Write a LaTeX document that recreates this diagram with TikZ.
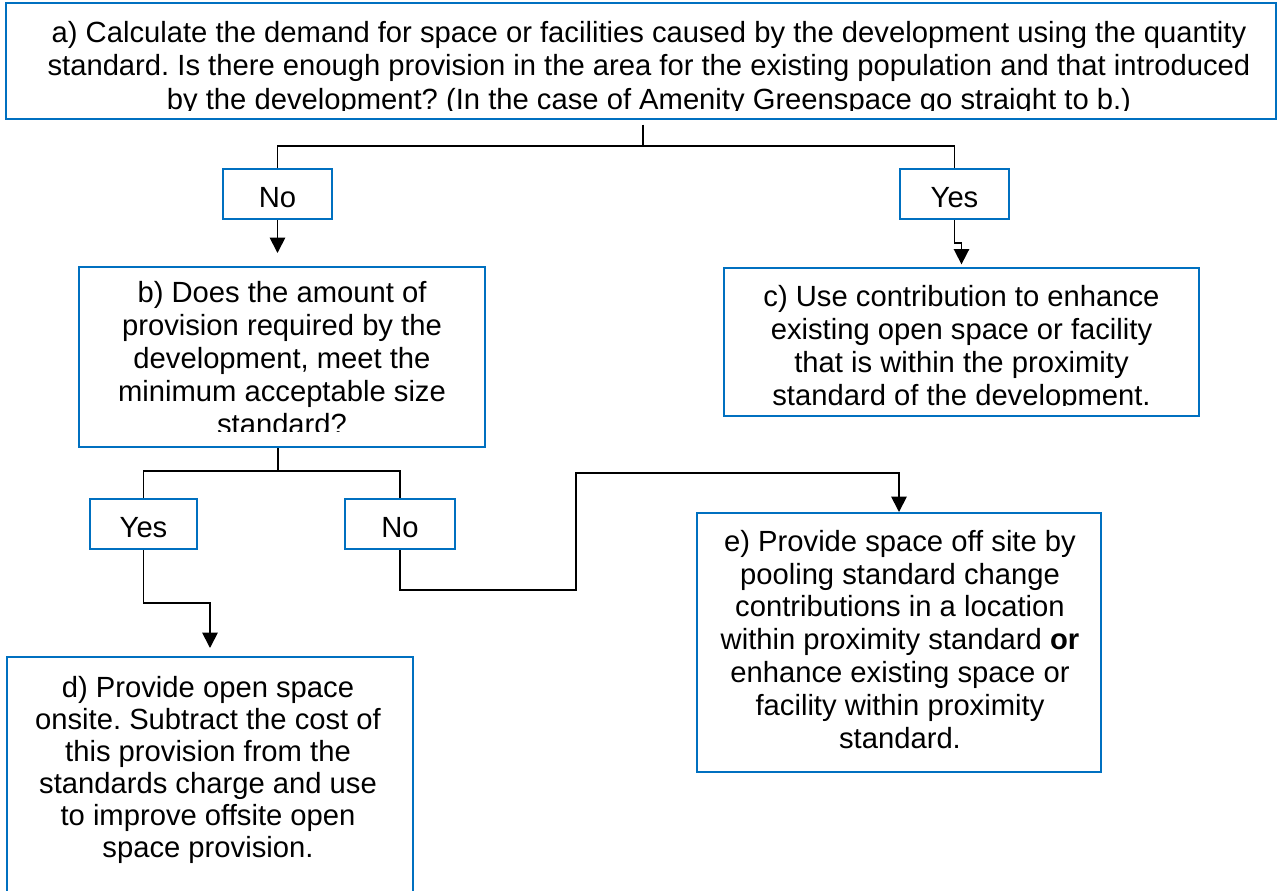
\documentclass[tikz,border=0pt]{standalone}
\usepackage{fontspec}
\setmainfont{Liberation Sans}
\usetikzlibrary{arrows.meta}
\definecolor{boxblue}{RGB}{0,112,192}
\frenchspacing
\begin{document}
\begin{tikzpicture}[x=0.75pt,y=-0.75pt,
  bx/.style={draw=boxblue,line width=1.5pt,inner sep=0pt},
  txt/.style={inner sep=0pt,align=center,anchor=north},
  lab/.style={inner sep=0pt,anchor=base,font=\fontsize{21.9}{25}\selectfont},
  conn/.style={line width=1.3pt,black},
  arr/.style={conn,-{Triangle[length=11.5pt,width=11.5pt]}}]
\useasboundingbox (0,0) rectangle (1279,890);
% boxes
\node[bx,minimum width=952.5pt,minimum height=87pt] (a) at (641,61) {};
\node[bx,minimum width=81.75pt,minimum height=37.5pt] (no1) at (277.5,194) {};
\node[bx,minimum width=81.75pt,minimum height=37.5pt] (yes1) at (954.5,194) {};
\node[bx,minimum width=304.5pt,minimum height=135pt] (b) at (282,357) {};
\node[bx,minimum width=356.25pt,minimum height=111pt] (c) at (961.5,342) {};
\node[bx,minimum width=80.25pt,minimum height=37.5pt] (yes2) at (143.5,524) {};
\node[bx,minimum width=82.5pt,minimum height=37.5pt] (no2) at (400,524) {};
\node[bx,minimum width=304.5pt,minimum height=177pt] (d) at (210,775) {};
\node[bx,minimum width=303pt,minimum height=194.25pt] (e) at (899,642.5) {};
% texts
\begin{scope}
\clip (6,3) rectangle (1276,110);
\node[txt,font=\fontsize{21.9}{25.1}\selectfont] (ta) at (649,19.33) {\rule{0pt}{17pt}a) Calculate the demand for space or facilities caused by the development using the quantity\\ standard. Is there enough provision in the area for the existing population and that introduced\\ by the development? (In the case of Amenity Greenspace go straight to b.)};
\end{scope}
\begin{scope}
\clip (79,267) rectangle (485,431);
\node[txt,font=\fontsize{21.9}{24.75}\selectfont] (tb) at (282,279.33) {\rule{0pt}{17pt}b) Does the amount of\\ provision required by the\\ development, meet the\\ minimum acceptable size\\ standard?};
\end{scope}
\begin{scope}
\clip (724,268) rectangle (1199,405.5);
\node[txt,font=\fontsize{21.9}{24.75}\selectfont] (tc) at (961.5,283.33) {\rule{0pt}{17pt}c) Use contribution to enhance\\ existing open space or facility\\ that is within the proximity\\ standard of the development.};
\end{scope}
\node[txt,font=\fontsize{21.9}{24}\selectfont] (td) at (208,674.33) {\rule{0pt}{17pt}d) Provide open space\\ onsite. Subtract the cost of\\ this provision from the\\ standards charge and use\\ to improve offsite open\\ space provision.};
\node[txt,font=\fontsize{21.9}{24.6}\selectfont] (te) at (900,528.33) {\rule{0pt}{17pt}e) Provide space off site by\\ pooling standard change\\ contributions in a location\\ within proximity standard \textbf{or}\\ enhance existing space or\\ facility within proximity\\ standard.};
\node[lab] (lno1) at (277.5,207) {No};
\node[lab] (lyes1) at (954.5,207) {Yes};
\node[lab] (lyes2) at (143.5,537) {Yes};
\node[lab] (lno2) at (400,537) {No};
% connectors
\coordinate (j1) at (643,146);
\draw[conn] ([yshift=-3.5pt]a.south -| j1) -- (j1);
\draw[conn] (no1.north) |- (j1) -| (yes1.north);
\coordinate (t1) at (277.5,253);
\draw[arr] (no1.south) -- (t1);
\draw[arr] (yes1.south) -- ++(0,23) -| ([yshift=2pt]c.north);
\coordinate (j2) at (278,471);
\draw[conn] (b.south -| j2) -- (j2);
\draw[conn] (yes2.north) |- (j2) -| (no2.north);
\draw[arr] (yes2.south) -- ++(0,53) -| ([yshift=6pt]d.north);
\coordinate (k1) at (576,590);
\coordinate (k2) at (576,473);
\draw[arr] (no2.south) |- (k1) -- (k2) -| (e.north);
\end{tikzpicture}
\end{document}
